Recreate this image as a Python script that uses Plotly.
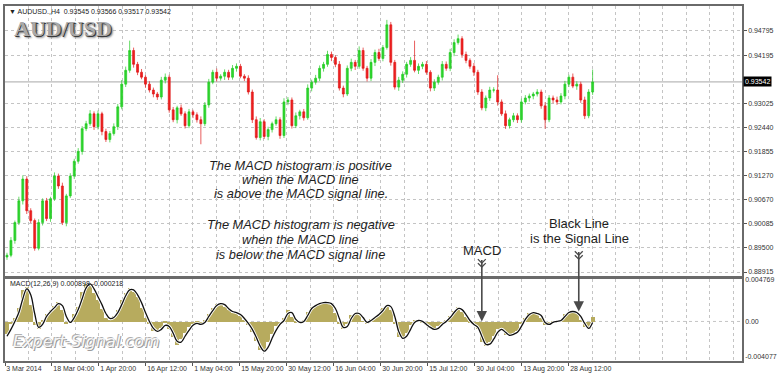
import plotly.graph_objects as go

# ---------------- DATA ----------------
first_open = 0.8928
close = [
    0.89324, 0.89685, 0.90118, 0.90648, 0.91178, 0.90407, 0.90167, 0.89493, 0.90118, 0.90648,
    0.90215, 0.90696, 0.91250, 0.91009, 0.90118, 0.90768, 0.91250, 0.91611, 0.91851, 0.92405,
    0.92525, 0.92766, 0.92453, 0.92766, 0.92333, 0.92140, 0.92285, 0.92453, 0.92935, 0.93488,
    0.93825, 0.94307, 0.93970, 0.93777, 0.93657, 0.93488, 0.93344, 0.93248, 0.93175, 0.93585,
    0.93657, 0.92862, 0.92622, 0.92911, 0.92766, 0.92477, 0.92814, 0.92742, 0.92622, 0.92525,
    0.92983, 0.93536, 0.93777, 0.93633, 0.93681, 0.93777, 0.93657, 0.93873, 0.93922, 0.93681,
    0.93633, 0.93296, 0.92622, 0.92188, 0.92574, 0.92213, 0.92381, 0.92525, 0.92622, 0.92237,
    0.93055, 0.93103, 0.92477, 0.92718, 0.92814, 0.92670, 0.93392, 0.93536, 0.93633, 0.93873,
    0.93970, 0.94210, 0.94138, 0.93970, 0.93392, 0.93248, 0.93873, 0.94018, 0.93922, 0.94307,
    0.93873, 0.93633, 0.94018, 0.94258, 0.94114, 0.94379, 0.94932, 0.94018, 0.93416, 0.93585,
    0.93729, 0.93970, 0.94066, 0.93825, 0.93922, 0.93970, 0.93777, 0.93392, 0.93536, 0.93657,
    0.93970, 0.93873, 0.94258, 0.94499, 0.94595, 0.94210, 0.94066, 0.93922, 0.93777, 0.93296,
    0.92911, 0.93151, 0.93344, 0.93344, 0.93055, 0.92766, 0.92477, 0.92622, 0.92718, 0.92622,
    0.93055, 0.93151, 0.93199, 0.93248, 0.93296, 0.92959, 0.92622, 0.93151, 0.93103, 0.93055,
    0.93199, 0.93488, 0.93657, 0.93440, 0.93488, 0.93103, 0.92718, 0.93296, 0.93542,
]
up_wick_pips = [
    6, 8, 5, 10, 9, 7, 6, 5, 8, 6,
    7, 5, 9, 6, 8, 5, 7, 6, 8, 6,
    7, 9, 6, 8, 5, 7, 6, 8, 7, 10,
    9, 24, 7, 6, 8, 5, 7, 6, 5, 8,
    9, 6, 7, 5, 8, 6, 7, 5, 6, 8,
    7, 8, 6, 9, 5, 7, 6, 8, 7, 6,
    5, 7, 6, 8, 9, 6, 7, 5, 8, 6,
    9, 7, 6, 8, 5, 7, 9, 6, 8, 7,
    6, 9, 7, 5, 8, 6, 7, 9, 6, 10,
    7, 6, 8, 7, 9, 6, 12, 7, 6, 8,
    7, 6, 8, 48, 7, 6, 8, 5, 7, 6,
    8, 7, 9, 8, 10, 6, 7, 5, 8, 6,
    7, 6, 8, 7, 36, 6, 8, 5, 7, 6,
    8, 7, 6, 5, 7, 6, 9, 7, 6, 8,
    7, 8, 6, 9, 7, 6, 8, 7, 30,
]
down_wick_pips = [
    7, 5, 8, 6, 9, 8, 6, 6, 5, 7,
    6, 8, 5, 7, 6, 9, 5, 7, 6, 8,
    6, 5, 8, 7, 9, 6, 7, 5, 8, 6,
    7, 6, 8, 7, 5, 9, 6, 8, 7, 6,
    8, 7, 6, 9, 5, 7, 6, 8, 7, 50,
    6, 7, 5, 8, 6, 9, 7, 6, 8, 5,
    7, 6, 8, 5, 7, 6, 9, 7, 5, 8,
    6, 8, 7, 6, 9, 7, 5, 8, 6, 7,
    8, 6, 9, 7, 6, 8, 5, 7, 9, 6,
    6, 8, 7, 9, 6, 7, 5, 8, 6, 9,
    7, 8, 6, 5, 9, 7, 6, 8, 7, 6,
    8, 6, 7, 9, 5, 8, 7, 6, 9, 7,
    6, 8, 7, 6, 9, 5, 8, 7, 6, 8,
    7, 6, 9, 8, 6, 7, 22, 6, 8, 7,
    6, 8, 7, 5, 9, 7, 8, 6, 7,
]
macd_hist = [
    -0.00148, -0.00034, 0.00045, 0.00159, 0.00363, 0.00397, 0.00193, -0.00045, -0.00091, 0.00023,
    0.00091, 0.00136, 0.00182, 0.00227, 0.00136, -0.00034, 0.00005, 0.00091, 0.00170, 0.00341,
    0.00431, 0.00420, 0.00329, 0.00250, 0.00148, 0.00045, 0.00023, 0.00068, 0.00136, 0.00250,
    0.00329, 0.00386, 0.00341, 0.00284, 0.00159, 0.00045, -0.00034, -0.00114, -0.00102, -0.00079,
    -0.00011, -0.00091, -0.00182, -0.00272, -0.00204, -0.00136, -0.00068, -0.00034, -0.00011, -0.00045,
    0.00023, 0.00091, 0.00159, 0.00204, 0.00204, 0.00170, 0.00136, 0.00102, 0.00102, 0.00068,
    0.00011, -0.00045, -0.00125, -0.00227, -0.00329, -0.00341, -0.00238, -0.00148, -0.00057, -0.00023,
    0.00045, 0.00136, 0.00057, -0.00011, -0.00011, 0.00023, 0.00114, 0.00170, 0.00193, 0.00204,
    0.00216, 0.00216, 0.00204, 0.00102, -0.00034, -0.00091, -0.00023, 0.00079, 0.00091, 0.00091,
    0.00002, -0.00023, 0.00034, 0.00057, 0.00091, 0.00159, 0.00193, 0.00136, -0.00023, -0.00182,
    -0.00204, -0.00136, -0.00045, 0.00023, 0.00011, -0.00011, -0.00045, -0.00079, -0.00091, -0.00057,
    -0.00023, 0.00011, 0.00068, 0.00125, 0.00170, 0.00114, 0.00057, -0.00011, -0.00034, -0.00091,
    -0.00238, -0.00284, -0.00238, -0.00170, -0.00091, -0.00091, -0.00159, -0.00170, -0.00136, -0.00114,
    -0.00023, 0.00045, 0.00102, 0.00102, 0.00091, 0.00045, -0.00045, -0.00023, 0.00002, -0.00002,
    0.00023, 0.00091, 0.00114, 0.00114, 0.00102, 0.00023, -0.00068, -0.00091, 0.00057,
]
macd_signal = [
    -0.00170, -0.00091, 0.00000, 0.00102, 0.00261, 0.00375, 0.00306, 0.00091, -0.00068, -0.00034,
    0.00057, 0.00114, 0.00159, 0.00204, 0.00182, 0.00057, -0.00011, 0.00045, 0.00136, 0.00261,
    0.00386, 0.00431, 0.00375, 0.00284, 0.00193, 0.00091, 0.00034, 0.00045, 0.00102, 0.00193,
    0.00295, 0.00363, 0.00363, 0.00306, 0.00216, 0.00102, 0.00000, -0.00079, -0.00114, -0.00091,
    -0.00045, -0.00057, -0.00136, -0.00227, -0.00238, -0.00170, -0.00102, -0.00045, -0.00023, -0.00034,
    -0.00011, 0.00057, 0.00125, 0.00182, 0.00204, 0.00193, 0.00148, 0.00114, 0.00102, 0.00079,
    0.00034, -0.00023, -0.00091, -0.00182, -0.00284, -0.00341, -0.00295, -0.00193, -0.00102, -0.00034,
    0.00011, 0.00091, 0.00102, 0.00023, -0.00011, 0.00000, 0.00068, 0.00148, 0.00182, 0.00204,
    0.00216, 0.00216, 0.00204, 0.00148, 0.00034, -0.00068, -0.00057, 0.00034, 0.00091, 0.00091,
    0.00045, -0.00011, 0.00011, 0.00045, 0.00079, 0.00125, 0.00182, 0.00170, 0.00057, -0.00114,
    -0.00193, -0.00170, -0.00091, -0.00011, 0.00011, 0.00000, -0.00034, -0.00068, -0.00091, -0.00079,
    -0.00034, 0.00000, 0.00045, 0.00102, 0.00148, 0.00136, 0.00079, 0.00011, -0.00034, -0.00068,
    -0.00170, -0.00261, -0.00261, -0.00204, -0.00125, -0.00091, -0.00125, -0.00159, -0.00148, -0.00125,
    -0.00057, 0.00023, 0.00079, 0.00102, 0.00091, 0.00068, -0.00011, -0.00034, -0.00011, 0.00000,
    0.00011, 0.00057, 0.00102, 0.00114, 0.00102, 0.00057, -0.00023, -0.00079, -0.00011,
]
date_labels = ["3 Mar 2014", "18 Mar 04:00", "1 Apr 20:00", "16 Apr 12:00", "1 May 04:00",
               "15 May 20:00", "30 May 12:00", "16 Jun 04:00", "30 Jun 20:00", "15 Jul 12:00",
               "30 Jul 04:00", "13 Aug 20:00", "28 Aug 12:00"]
price_ticks = [0.94795, 0.94195, 0.93025, 0.92440, 0.91855, 0.91270, 0.90670, 0.90085, 0.89500, 0.88915]
price_tick_text = ["0.94795", "0.94195", "0.93025", "0.92440", "0.91855", "0.91270",
                   "0.90670", "0.90085", "0.89500", "0.88915"]
macd_ticks = [0.004769, 0.0, -0.004077]
macd_tick_text = ["0.004769", "0.00", "-0.004077"]
last_price = 0.93542
header_text = "▼ AUDUSD.,H4  0.93545 0.93566 0.93517 0.93542"
macd_label = "MACD(12,26,9) 0.000898 -0.000218"

# ---------------- derived ----------------
n = len(close)
idx = list(range(n))
opens = [first_open] + close[:-1]
highs = [max(o, c) + w * 1e-4 for o, c, w in zip(opens, close, up_wick_pips)]
lows = [min(o, c) - w * 1e-4 for o, c, w in zip(opens, close, down_wick_pips)]

W, H = 780, 376
L, R, T, B = 3, 32, 3, 14          # margins
PX0, PX1 = L, W - R                 # plot area x pixels
PY1 = H - B                         # bottom pixel of plot area
PH = H - T - B


def fx(p):
    return (p - PX0) / (PX1 - PX0)


def fy(p):
    return (PY1 - p) / PH


X_RANGE = [-0.5, 185.75]
label_step = 11.875
label_pos = [-0.5 + label_step * k for k in range(len(date_labels))]
grid_pos = [-0.5 + label_step / 2 * j for j in range(32)]

FONT = "Liberation Sans"
GRID = "#c4c4c4"

fig = go.Figure()

fig.add_trace(go.Candlestick(
    x=idx, open=opens, high=highs, low=lows, close=close,
    increasing=dict(line=dict(color="#22cc22", width=0.7), fillcolor="#2fd42f"),
    decreasing=dict(line=dict(color="#e01818", width=0.7), fillcolor="#ee2020"),
    whiskerwidth=0, xaxis="x", yaxis="y", showlegend=False, hoverinfo="skip",
))

fig.add_trace(go.Bar(
    x=idx, y=macd_hist, marker=dict(color="#b7ab5e", line=dict(width=0)),
    xaxis="x2", yaxis="y2", showlegend=False, hoverinfo="skip",
))
fig.add_trace(go.Scatter(
    x=idx, y=macd_signal, mode="lines", line=dict(color="white", width=3, shape="spline"),
    xaxis="x2", yaxis="y2", showlegend=False, hoverinfo="skip",
))
fig.add_trace(go.Scatter(
    x=idx, y=macd_signal, mode="lines", line=dict(color="#111111", width=1.3, shape="spline"),
    xaxis="x2", yaxis="y2", showlegend=False, hoverinfo="skip",
))

main_bottom = fy(276)
macd_top = fy(279)

fig.update_layout(
    width=W, height=H,
    margin=dict(l=L, r=R, t=T, b=B),
    paper_bgcolor="white", plot_bgcolor="white",
    bargap=0,
    font=dict(family=FONT, size=7, color="#222"),
    xaxis=dict(domain=[0, 1], anchor="y", range=X_RANGE, rangeslider=dict(visible=False),
               tickmode="array", tickvals=grid_pos, showticklabels=False, ticks="",
               showgrid=True, gridcolor=GRID, griddash="dot", gridwidth=1,
               showline=True, linecolor="#6a6a6a", linewidth=1.5, mirror=True, zeroline=False),
    yaxis=dict(domain=[main_bottom, 1], anchor="x", side="right", range=[0.88819, 0.95390],
               tickmode="array", tickvals=price_ticks, ticktext=price_tick_text,
               ticks="outside", ticklen=3, tickcolor="#555", tickfont=dict(size=7, color="#333"),
               showgrid=True, gridcolor=GRID, griddash="dot", gridwidth=1,
               showline=True, linecolor="#6a6a6a", linewidth=1.5, mirror=True, zeroline=False),
    xaxis2=dict(domain=[0, 1], anchor="y2", range=X_RANGE, matches="x",
                tickmode="array", tickvals=label_pos, ticktext=date_labels, tickangle=0,
                ticklabelposition="outside right", ticks="outside", ticklen=3, tickcolor="#555",
                tickfont=dict(size=7, color="#333"),
                showgrid=True, gridcolor=GRID, griddash="dot", gridwidth=1,
                minor=dict(tickmode="array", tickvals=grid_pos, showgrid=True, gridcolor=GRID,
                           griddash="dot", ticks=""),
                showline=True, linecolor="#6a6a6a", linewidth=1.5, mirror=True, zeroline=False),
    yaxis2=dict(domain=[0, macd_top], anchor="x2", side="right", range=[-0.00454, 0.00488],
                tickmode="array", tickvals=macd_ticks, ticktext=macd_tick_text,
                ticks="", tickfont=dict(size=7, color="#333"),
                showgrid=False, showline=True, linecolor="#6a6a6a", linewidth=1.5, mirror=True,
                zeroline=False),
)

# zero line in MACD pane, current price line
fig.add_hline(y=0, line=dict(color=GRID, width=1, dash="dot"), xref="x2", yref="y2", layer="below")
fig.add_shape(type="line", xref="paper", yref="y", x0=0, x1=1, y0=last_price, y1=last_price,
              line=dict(color="#a8a8a8", width=1), layer="below")

ann = []


def txt(xp, yp, text, size, color="#1e1e1e", family=FONT, xanchor="center", **kw):
    d = dict(x=fx(xp), y=fy(yp), xref="paper", yref="paper", xanchor=xanchor, yanchor="middle",
             text=text, showarrow=False, borderpad=0,
             font=dict(size=size, color=color, family=family, **kw))
    ann.append(d)


# header
txt(6, 9, header_text, 7, color="#222", xanchor="left")
# AUD/USD logo
txt(11, 26, "<b>AUD/USD</b>", 22, color="#a9a9a9", family="Liberation Serif", xanchor="left",
    shadow="1px 1px 0px #3a3a3a, 2px 2px 2px #888")
# current price box
ann.append(dict(x=1, y=last_price, xref="paper", yref="y", xanchor="left", yanchor="middle",
                xshift=1, text=str(last_price), showarrow=False, bgcolor="#000000", borderpad=1,
                font=dict(size=7, color="white", family=FONT)))
# explanation text
lines = [("The MACD histogram is positive", 164), ("when the MACD line", 178.5),
         ("is above the MACD signal line.", 193), ("The MACD histogram is negative", 224),
         ("when the MACD line", 239), ("is below the MACD signal line", 254)]
for t, yp in lines:
    txt(302, yp, "<i>" + t + "</i>", 12.8)
# MACD / signal labels
txt(485, 250, "MACD", 13)
txt(583, 223, "Black Line", 13)
txt(584, 238, "is the Signal Line", 13)
# arrows
for xa, ytop, ybot in [(485, 259, 322), (583, 251, 312)]:
    ann.append(dict(x=fx(xa), y=fy(ybot), xref="paper", yref="paper", ax=0, ay=-(ybot - ytop),
                    text="", showarrow=True, arrowhead=2, arrowsize=1.3, arrowwidth=1.6,
                    arrowcolor="#4a4a4a"))
    for dy in (0, 4):
        p = "M {} {} L {} {} L {} {}".format(fx(xa - 4), fy(ytop + dy), fx(xa), fy(ytop + dy + 4),
                                             fx(xa + 4), fy(ytop + dy))
        fig.add_shape(type="path", xref="paper", yref="paper", path=p,
                      line=dict(color="#4a4a4a", width=1.3))
# MACD indicator label
txt(7, 284, macd_label, 7, color="#222", xanchor="left")
# watermark
txt(10, 342, "<i>Expert-Signal.com</i>", 16, color="#f6f6f6", family="DejaVu Sans", xanchor="left",
    shadow="1px 1px 0px #9a9a9a, -1px -1px 0px #b0b0b0")

fig.update_layout(annotations=ann)
fig.write_html("out.html", config={"displayModeBar": False},
               post_script="document.body.style.margin='0px';")
